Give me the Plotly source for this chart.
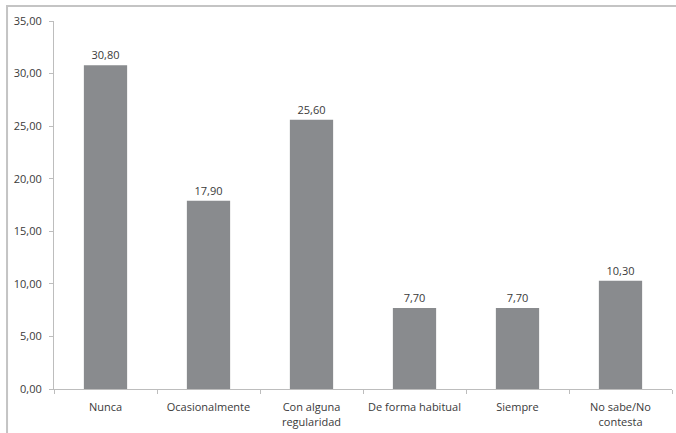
import plotly.graph_objects as go

categories = ["Nunca", "Ocasionalmente", "Con alguna<br>regularidad",
              "De forma habitual", "Siempre", "No sabe/No<br>contesta"]
values = [30.80, 17.90, 25.60, 7.70, 7.70, 10.30]
y_ticks = [0, 5, 10, 15, 20, 25, 30, 35]

FONT = "Open Sans"
TEXT = "#3a3a3a"
AXIS = "#bdbdbd"

fig = go.Figure(go.Bar(
    x=categories,
    y=values,
    marker=dict(color="#898b8e", line=dict(width=0)),
    texttemplate="%{y:.2f}",
    textposition="outside",
    textfont=dict(family=FONT, size=11, color=TEXT),
    cliponaxis=False,
    width=0.42,
))

fig.update_layout(
    width=676, height=433,
    margin=dict(l=54, r=4, t=21, b=44),
    paper_bgcolor="white",
    plot_bgcolor="white",
    separators=",.",
    showlegend=False,
    font=dict(family=FONT, size=11, color=TEXT),
    shapes=[dict(
        type="rect", xref="paper", yref="paper",
        x0=-0.076, x1=1.05, y0=-0.2, y1=1.041,
        line=dict(color="#c4c4c4", width=2),
        fillcolor="rgba(0,0,0,0)", layer="below",
    )],
)

fig.update_yaxes(
    range=[0, 35],
    tickvals=y_ticks,
    tickformat=".2f",
    showgrid=False,
    zeroline=False,
    showline=True,
    linecolor=AXIS,
    linewidth=1,
    ticks="outside",
    ticklen=4,
    tickcolor=AXIS,
    ticklabelstandoff=5,
    tickfont=dict(family=FONT, size=11, color=TEXT),
)

fig.update_xaxes(
    showgrid=False,
    showline=True,
    linecolor=AXIS,
    linewidth=1,
    ticks="outside",
    tickson="boundaries",
    ticklen=4,
    tickcolor=AXIS,
    ticklabelstandoff=8,
    tickfont=dict(family=FONT, size=11, color=TEXT),
)

fig.write_html("out.html")
